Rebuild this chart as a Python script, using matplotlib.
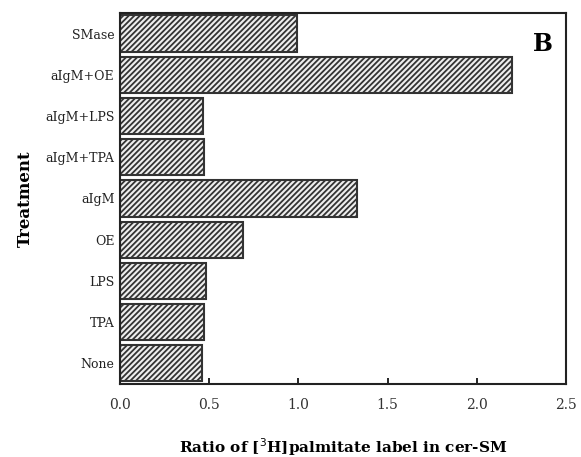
import matplotlib
matplotlib.use("Agg")
import matplotlib.pyplot as plt

treatments = ["None", "TPA", "LPS", "OE", "aIgM", "aIgM+TPA", "aIgM+LPS", "aIgM+OE", "SMase"]
ratios = [0.46, 0.47, 0.48, 0.69, 1.33, 0.47, 0.465, 2.20, 0.99]
xticks = [0.0, 0.5, 1.0, 1.5, 2.0, 2.5]

plt.rcParams["font.family"] = "DejaVu Serif"
plt.rcParams["hatch.linewidth"] = 1.3

fig = plt.figure(figsize=(5.81, 4.57), dpi=100)
ax = fig.add_axes([0.2065, 0.16, 0.7675, 0.8116])

ax.barh(range(len(treatments)), ratios, height=0.88, color="#eeeeee",
        edgecolor="#333333", hatch="//////", linewidth=1.5)

ax.set_xlim(0, 2.5)
ax.set_ylim(-0.5, len(treatments) - 0.5)
ax.set_xticks(xticks)
ax.set_xticklabels([f"{t:.1f}" for t in xticks], fontsize=10, color="#333333")
ax.set_yticks(range(len(treatments)))
ax.set_yticklabels(treatments, fontsize=9, color="#222222")
ax.tick_params(axis="x", direction="in", length=4, width=1.2, pad=10)
ax.tick_params(axis="y", length=0, pad=4)
for s in ax.spines.values():
    s.set_linewidth(1.5)
    s.set_color("#222222")

ax.set_xlabel("Ratio of [$^3$H]palmitate label in cer-SM", fontsize=11,
              fontweight="bold", labelpad=18)
ax.set_ylabel("Treatment", fontsize=12, fontweight="bold", labelpad=8)
ax.text(0.97, 0.95, "B", transform=ax.transAxes, ha="right", va="top",
        fontsize=17, fontweight="bold")

fig.savefig("out.png", dpi=100)
